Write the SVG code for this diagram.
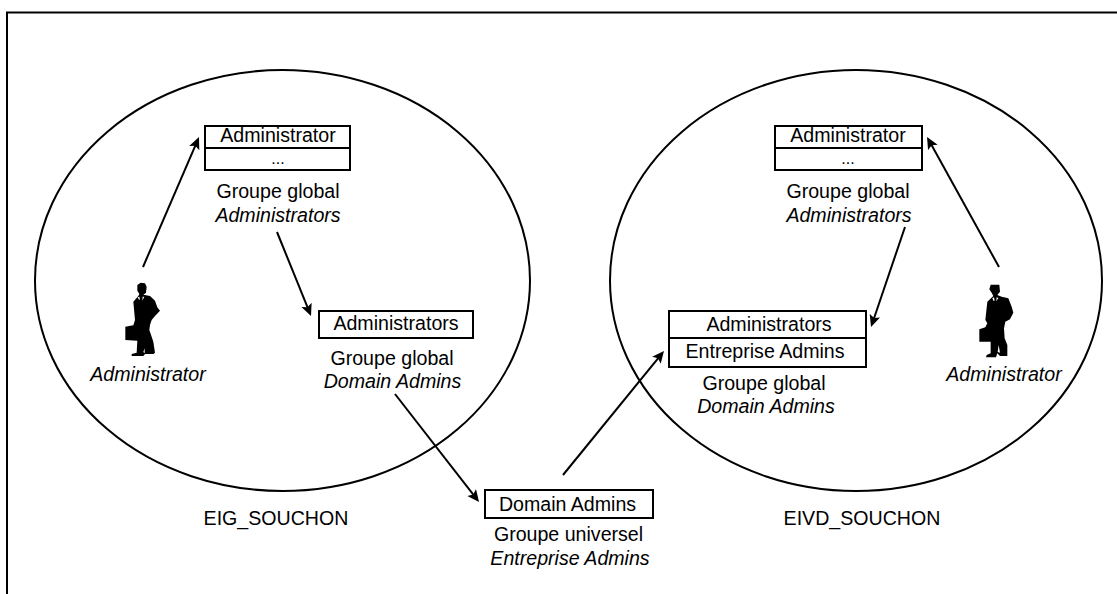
<svg xmlns="http://www.w3.org/2000/svg" width="1117" height="594" viewBox="0 0 1117 594">
<style>
text{font-family:"Liberation Sans",Arial,sans-serif;font-size:19.6px;fill:#000;text-anchor:middle}
.i{font-style:italic}
.d{font-size:16px}
.l{fill:none;stroke:#000;stroke-width:2}
.b{fill:#fff;stroke:#000;stroke-width:2}
.a{fill:none;stroke:#000;stroke-width:2;marker-end:url(#arr)}
.w{fill:#fff}
</style>
<defs>
<marker id="arr" markerUnits="userSpaceOnUse" markerWidth="14" markerHeight="12" refX="9" refY="5.500" orient="auto"><path d="M0,0L12,5.500L0,11L2.500,5.500Z" fill="#000"/></marker>
</defs>
<rect width="1117" height="594" fill="#fff"/>
<path id="frame" class="l" d="M7,594V12.500H1117"/>
<ellipse id="EIG_SOUCHON" class="l" cx="282.500" cy="280.500" rx="247.500" ry="210.500"/>
<ellipse id="EIVD_SOUCHON" class="l" cx="856" cy="280.500" rx="246" ry="210.500"/>
<g id="connectors">
<path class="a" d="M143,267L197.800,139.800"/>
<path class="a" d="M277,232L309.900,313.200"/>
<path class="a" d="M395,394L477.200,499.600"/>
<path class="a" d="M563,475L662.100,353.300"/>
<path class="a" d="M999,267L928.500,139.600"/>
<path class="a" d="M905,227L872,324.200"/>
</g>
<g id="n1"><rect class="b" x="205" y="126" width="145" height="44"/><path class="l" d="M205,148H350"/><text x="278" y="142">Administrator</text><text class="d" x="278" y="164">...</text><text x="278" y="198">Groupe global</text><text class="i" x="278" y="222">Administrators</text></g>
<g id="n2"><rect class="b" x="319" y="311" width="154" height="27"/><text x="396" y="330">Administrators</text><text x="392" y="365">Groupe global</text><text class="i" x="392.500" y="388">Domain Admins</text></g>
<g id="n3"><rect class="b" x="485" y="490" width="168" height="28"/><text x="567.500" y="511">Domain Admins</text><text x="568.500" y="541">Groupe universel</text><text class="i" x="570" y="565">Entreprise Admins</text></g>
<g id="n4"><rect class="b" x="775" y="126" width="147" height="44"/><path class="l" d="M775,148H922"/><text x="848" y="142">Administrator</text><text class="d" x="848" y="164">...</text><text x="848" y="198">Groupe global</text><text class="i" x="849" y="222">Administrators</text></g>
<g id="n5"><rect class="b" x="669" y="311" width="197" height="56"/><path class="l" d="M669,338H866"/><text x="769" y="331">Administrators</text><text x="765" y="358">Entreprise Admins</text><text x="764" y="389.500">Groupe global</text><text class="i" x="766" y="413">Domain Admins</text></g>
<g id="p1"><g transform="translate(100,270) scale(.3333)"><path d="M112,45L122,38L135,40L140,50L138,68L130,74L150,78L165,92L172,112L180,122L165,138L155,150L150,165L148,180L155,200L160,215L165,248L160,252L135,252L130,258L95,258L95,252L110,248L112,212L76,210L76,170L100,166L105,150L100,95L115,78L118,72L112,62Z"/><path class="w" d="M113,82L118,80L120,90L116,88ZM128,80L133,80L127,92ZM134,235L130,246L134,250Z"/></g><text class="i" x="148" y="381">Administrator</text></g>
<g id="p2"><g transform="translate(960,270) scale(.3333)"><path d="M92,44L118,44L120,65L112,75L125,80L145,85L155,110L160,128L150,148L136,155L132,175L134,205L142,225L142,258L120,258L112,250L108,262L78,262L80,255L92,250L92,215L58,215L58,178L76,172L82,160L76,150L82,95L100,78L95,68L88,58Z"/><path class="w" d="M97,85L102,82L104,92L100,92ZM110,82L115,84L109,94ZM116,225L113,246L120,248Z"/></g><text class="i" x="1004" y="381">Administrator</text></g>
<text x="276" y="525">EIG_SOUCHON</text>
<text x="862" y="525">EIVD_SOUCHON</text>
</svg>
